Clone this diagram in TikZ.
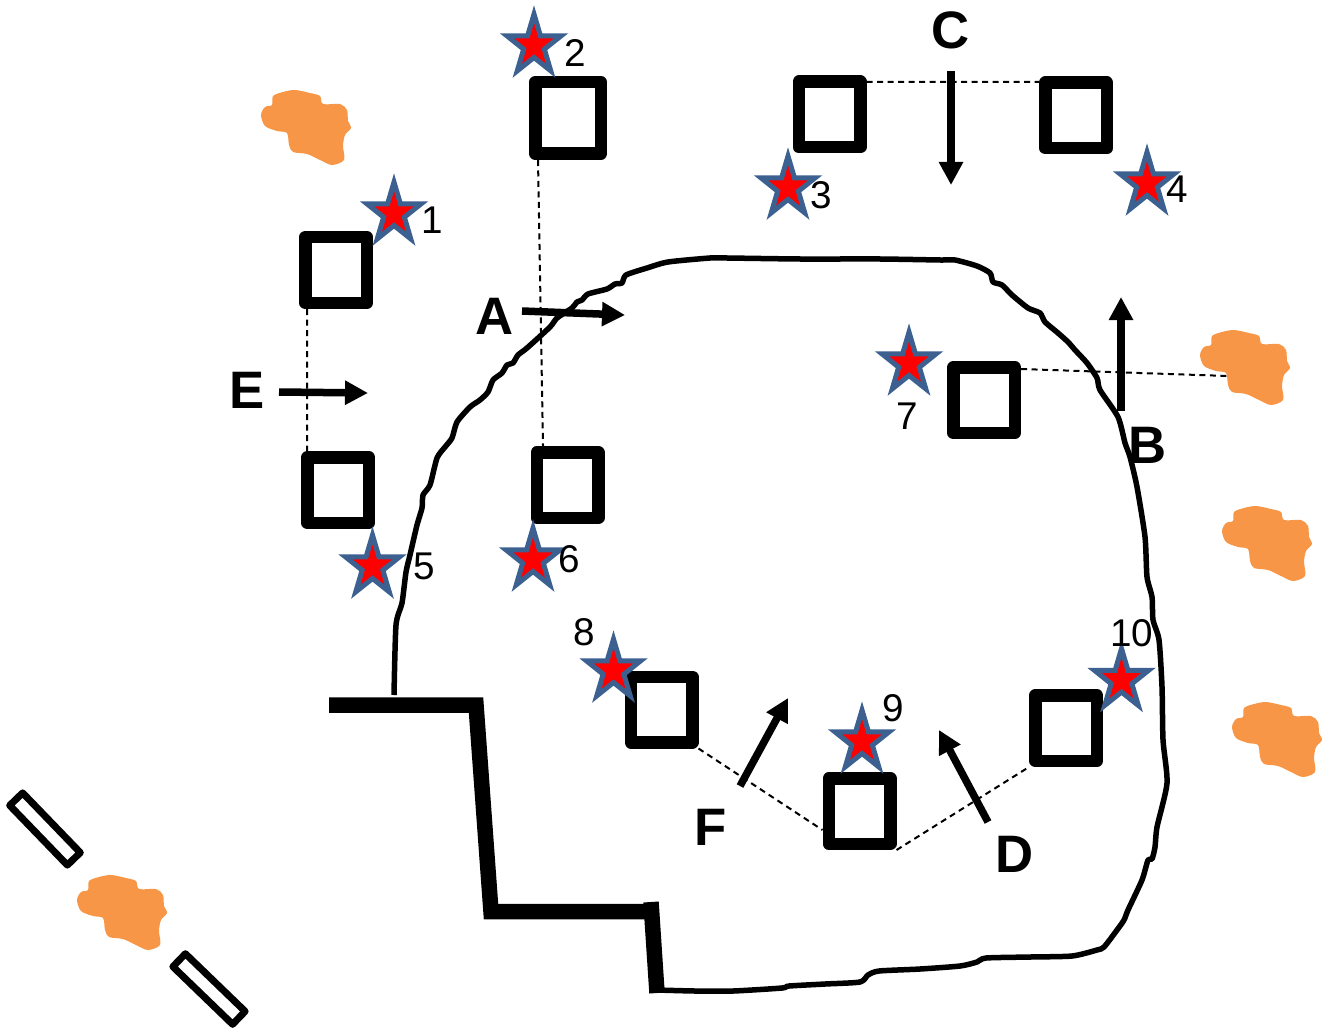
\documentclass[tikz,border=0pt]{standalone}
\usepackage{fontspec}
\setmainfont{Liberation Sans}
\usetikzlibrary{arrows.meta,positioning,shapes.geometric}

\definecolor{starblue}{HTML}{3C6090}
\definecolor{bloborange}{HTML}{F79646}

\begin{document}
\begin{tikzpicture}[
    x = 0.1mm, y = -0.1mm, % one unit is one pixel of the layout
    > = {Triangle[length=2.3mm,width=2.3mm]}, % arrow head style
    line join = miter
    ]

    \tikzset{
    sqbox/.style = {draw = black, line width = 1.25mm, line join = round,
        minimum width = 6.15mm, minimum height = 6.55mm, inner sep = 0pt},
    slit/.style = {draw = black, line width = 0.7mm, line join = round,
        minimum width = 8.3mm, minimum height = 1.8mm, inner sep = 0pt},
    redstar/.style = {star, star points = 5, star point ratio = 2.618,
        draw = starblue, fill = red, line width = 0.5mm, yscale = 1.1, transform shape,
        minimum size = 5.7mm, inner sep = 0pt, outer sep = 0pt},
    numlabel/.style = {font = \fontsize{11}{12}\selectfont, inner sep = 0pt},
    letterlabel/.style = {font = \fontsize{15}{16}\selectfont\bfseries, inner sep = 0pt},
    tiedash/.style = {draw = black, line width = 0.2mm, dash pattern = on 0.6mm off 0.45mm},
    push/.style = {->, line width = 0.75mm},
    blob/.pic = {
        \fill[bloborange] plot[smooth cycle, tension = 0.5] coordinates {
            (-44,-13) (-40,-21) (-33,-23) (-32,-32) (-22,-36) (-10,-38)
            (5,-35) (15,-32) (18,-24) (35,-24) (42,-18) (43,-7) (46,0)
            (40,7) (38,18) (39,32) (27,37) (15,32) (2,26) (-12,24)
            (-16,17) (-18,5) (-28,3) (-40,-2)};
    }
    }

    \useasboundingbox (0,0) rectangle (1325,1030);

    % blobs
    \pic (blob1) at (305,128) {blob};
    \pic (blob2) at (1244,368) {blob};
    \pic (blob3) at (1266,544) {blob};
    \pic (blob4) at (1276,740) {blob};
    \pic (blob5) at (121,913) {blob};

    % slits
    \node[slit, rotate=-46] (slit1) at (45,829) {};
    \node[slit, rotate=-44] (slit2) at (209,989) {};

    % outline and wall
    \draw[line width = 0.55mm, line join = round] plot[smooth, tension = 0.4] coordinates {
        (394,695) (396,625) (402,603) (406,572) (410,555) (417,525) (422,508)
        (423,495) (430,485) (437,458) (445,447) (452,438) (457,422) (470,407)
        (480,400) (488,392) (493,380) (502,373) (507,365) (513,363) (518,355)
        (527,348) (550,327) (557,318) (572,308) (577,302) (582,300) (588,294)
        (607,289) (615,284) (622,283) (626,275) (647,268) (668,262) (710,258)
        (727,258) (800,259) (880,259) (940,260) (955,260) (977,266) (990,273)
        (993,282) (1002,285) (1012,295) (1028,308) (1040,313) (1045,322)
        (1058,333) (1068,342) (1075,350) (1087,363) (1097,378) (1100,390)
        (1118,417) (1125,443) (1130,457) (1137,487) (1145,537) (1147,577)
        (1152,597) (1153,620) (1159,640) (1162,687) (1163,740) (1167,783)
        (1157,827) (1155,847) (1152,859) (1148,860) (1142,880) (1128,910)
        (1124,920) (1117,930) (1104,947) (1097,950) (1072,956) (1030,957)
        (986,958) (977,962) (960,966) (920,969) (879,971) (868,975) (860,982)
        (825,984) (789,986) (782,988) (733,991) (695,991) (657,990)};
    \draw[line width = 1.55mm] (329,705) -- (476,705) -- (491,911.5) -- (651,911.5);
    \draw[line width = 1.55mm] (651,902) -- (657,993);

    % squares
    \node[sqbox] (sq1) at (336,270) {};
    \node[sqbox, minimum width = 6.55mm, minimum height = 7.15mm] (sq2) at (568,118) {};
    \node[sqbox] (sq3) at (829.5,114.5) {};
    \node[sqbox] (sq4) at (1076,115.5) {};
    \node[sqbox] (sq5) at (338,490) {};
    \node[sqbox] (sq6) at (567.5,485) {};
    \node[sqbox] (sq7) at (984,400) {};
    \node[sqbox] (sq8) at (661.5,709.5) {};
    \node[sqbox] (sq9) at (859.5,811) {};
    \node[sqbox] (sq10) at (1066,728) {};

    % dashed ties
    \coordinate (tieB) at (1228,376);
    \path[tiedash] ([xshift=-2.9mm]sq1.south) -- ([xshift=-3.1mm]sq5.north);
    \path[tiedash] ([xshift=-3mm]sq2.south) -- ([xshift=-2.45mm]sq6.north);
    \path[tiedash] ([yshift=3.25mm]sq3.east) -- ([yshift=3.35mm]sq4.west);
    \path[tiedash] ([yshift=3.1mm]sq7.east) -- (tieB);
    \path[tiedash] (sq8.south east) -- ([yshift=-1.9mm]sq9.west);
    \path[tiedash] (sq9.south east) -- (sq10.south west);

    % arrows
    \coordinate (arA1) at (522,311);
    \coordinate (arA2) at (625,315);
    \coordinate (arB1) at (1121,411);
    \coordinate (arB2) at (1121,297);
    \coordinate (arC1) at (951,71);
    \coordinate (arC2) at (951,185);
    \coordinate (arD1) at (988,822);
    \coordinate (arD2) at (939,730);
    \coordinate (arE1) at (279,392);
    \coordinate (arE2) at (368,393);
    \coordinate (arF1) at (740,786);
    \coordinate (arF2) at (788,698);
    \draw[push] (arA1) -- (arA2);
    \draw[push] (arB1) -- (arB2);
    \draw[push] (arC1) -- (arC2);
    \draw[push] (arD1) -- (arD2);
    \draw[push] (arE1) -- (arE2);
    \draw[push] (arF1) -- (arF2);

    % letters
    \node[letterlabel] (lblA) at (495,316) {A};
    \node[letterlabel] (lblB) at (1148,445) {B};
    \node[letterlabel] (lblC) at (951,30) {C};
    \node[letterlabel] (lblD) at (1015,854) {D};
    \node[letterlabel] (lblE) at (247,390) {E};
    \node[letterlabel] (lblF) at (711,827) {F};

    % stars
    \node[redstar] (s1) at (394,213.5) {};
    \node[redstar] (s2) at (534,45.5) {};
    \node[redstar] (s3) at (788,187.5) {};
    \node[redstar] (s4) at (1147,183.5) {};
    \node[redstar] (s5) at (372.5,566.5) {};
    \node[redstar] (s6) at (533,559.5) {};
    \node[redstar] (s7) at (909,363.5) {};
    \node[redstar] (s8) at (613.5,670.5) {};
    \node[redstar] (s9) at (862,741.5) {};
    \node[redstar] (s10) at (1121.5,680) {};

    % numbers
    \node[numlabel] (n1) [right=2.7mm of s1.center, yshift=-0.65mm] {1};
    \node[numlabel] (n2) [right=3mm of s2.center, yshift=-0.75mm] {2};
    \node[numlabel] (n3) [right=2.2mm of s3.center, yshift=-0.75mm] {3};
    \node[numlabel] (n4) [right=1.9mm of s4.center, yshift=-0.55mm] {4};
    \node[numlabel] (n5) [right=4mm of s5.center] {5};
    \node[numlabel] (n6) [right=2.5mm of s6.center] {6};
    \node[numlabel] (n7) [below=3.85mm of s7.center, xshift=-0.2mm] {7};
    \node[numlabel] (n8) [above left=2.35mm and 1.8mm of s8.center] {8};
    \node[numlabel] (n9) [above right=1.85mm and 2mm of s9.center] {9};
    \node[numlabel] (n10) [above=3.2mm of s10.center, xshift=1mm] {10};
\end{tikzpicture}
\end{document}
